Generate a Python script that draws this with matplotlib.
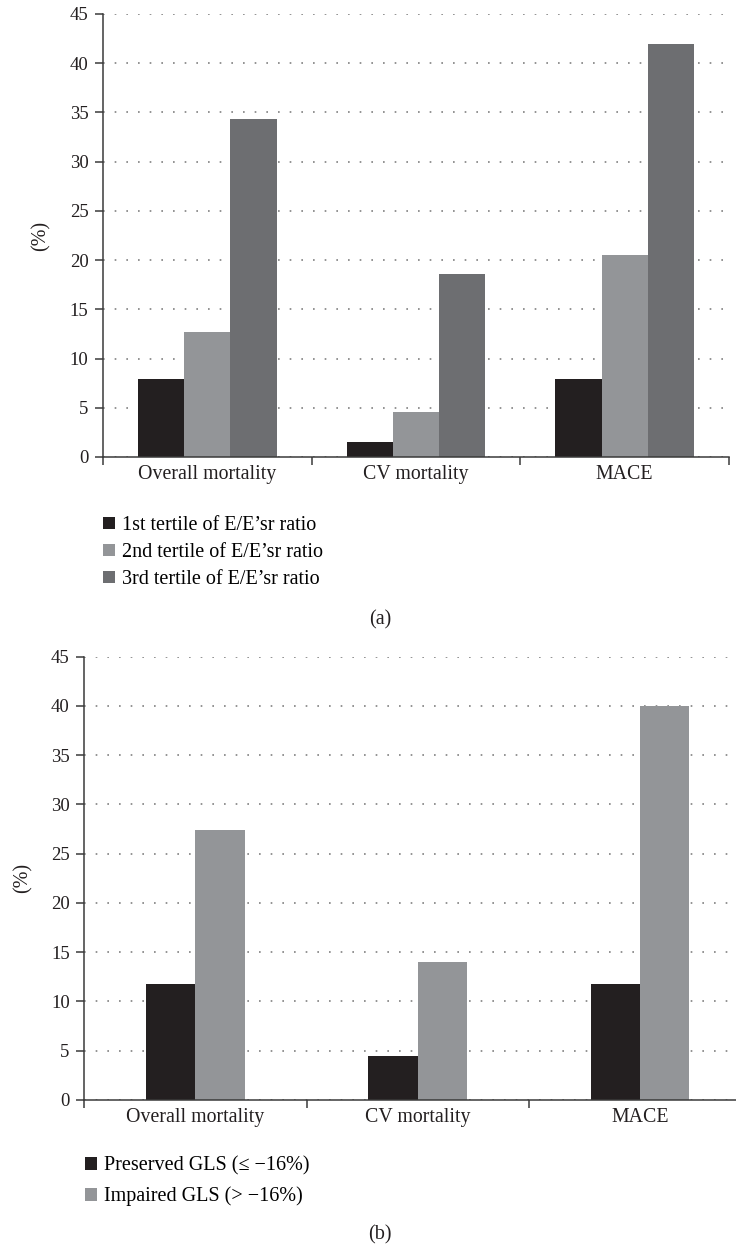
import matplotlib
matplotlib.use("Agg")
import matplotlib.pyplot as plt
import numpy as np

plt.rcParams['font.family'] = ['Liberation Serif', 'DejaVu Serif']

# Event rates (%) per outcome
categories = ["Overall mortality", "CV mortality", "MACE"]

# (a) tertiles of E/E'sr ratio
tertile1 = [7.9, 1.5, 7.9]
tertile2 = [12.7, 4.6, 20.5]
tertile3 = [34.3, 18.6, 42.0]
tertile_labels = ["1st tertile of E/E\u2019sr ratio",
                  "2nd tertile of E/E\u2019sr ratio",
                  "3rd tertile of E/E\u2019sr ratio"]

# (b) GLS groups
preserved = [11.8, 4.5, 11.8]
impaired = [27.4, 14.0, 40.0]
gls_labels = ["Preserved GLS (\u2264 \u221216%)", "Impaired GLS (> \u221216%)"]

black = "#231f20"
light = "#939598"
dark = "#6d6e71"
spine_col = "#3a3a3a"
txt = "#231f20"

fig = plt.figure(figsize=(7.36, 12.48), dpi=100)
W, H = 736.0, 1248.0


def style_axes(ax):
    x = np.arange(len(categories))
    ax.set_xlim(-0.5, len(categories) - 0.5)
    ax.set_ylim(0, 45)
    ax.set_yticks(np.arange(0, 46, 5))
    for s in ["top", "right"]:
        ax.spines[s].set_visible(False)
    for s in ["left", "bottom"]:
        ax.spines[s].set_color(spine_col)
        ax.spines[s].set_linewidth(1.1)
    # boundary ticks between groups, labels centred on groups
    ax.set_xticks(np.arange(-0.5, len(categories), 1.0))
    ax.set_xticklabels([])
    ax.set_xticks(x, minor=True)
    ax.set_xticklabels(categories, minor=True, fontsize=14.3, color=txt)
    ax.tick_params(axis="x", which="major", length=5.5, width=1.1, color=spine_col)
    ax.tick_params(axis="x", which="minor", length=0, pad=6)
    ax.tick_params(axis="y", length=5.5, width=1.1, color=spine_col,
                   labelsize=13.5, pad=5, labelcolor=txt)
    ax.yaxis.grid(True, linestyle=(0, (1, 6)), linewidth=1.2, color="#808080")
    ax.set_axisbelow(True)
    ax.set_ylabel("(%)", fontsize=14.5, color=txt)


# ---- (a) ----
ax1 = fig.add_axes([103 / W, 1 - 457 / H, (729 - 103) / W, (457 - 14) / H])
x = np.arange(len(categories))
w = 0.222
b1 = ax1.bar(x - w, tertile1, w, color=black, label=tertile_labels[0])
b2 = ax1.bar(x, tertile2, w, color=light, label=tertile_labels[1])
b3 = ax1.bar(x + w, tertile3, w, color=dark, label=tertile_labels[2])
style_axes(ax1)
ax1.yaxis.set_label_coords(-0.083, 0.5)

fig.legend(handles=[b1, b2, b3], loc="upper left",
           bbox_to_anchor=(103 / W, 1 - 516 / H), frameon=False,
           fontsize=14.5, handlelength=0.6, handleheight=0.6,
           handletextpad=0.33, labelspacing=0.4, borderpad=0, borderaxespad=0)
fig.text(380 / W, 1 - 620 / H, "(a)", ha="center", va="center", fontsize=14.5,
         color=txt)

# ---- (b) ----
ax2 = fig.add_axes([84.3 / W, 1 - 1100 / H, (751 - 84.3) / W, (1100 - 656.7) / H])
p1 = ax2.bar(x - w / 2, preserved, w, color=black, label=gls_labels[0])
p2 = ax2.bar(x + w / 2, impaired, w, color=light, label=gls_labels[1])
style_axes(ax2)
ax2.yaxis.set_label_coords(-0.078, 0.5)

fig.legend(handles=[p1, p2], loc="upper left",
           bbox_to_anchor=(85 / W, 1 - 1156 / H), frameon=False,
           fontsize=14.5, handlelength=0.6, handleheight=0.6,
           handletextpad=0.33, labelspacing=0.56, borderpad=0, borderaxespad=0)
fig.text(380 / W, 1 - 1235 / H, "(b)", ha="center", va="center", fontsize=14.5,
         color=txt)

fig.savefig("out.png", dpi=100)
